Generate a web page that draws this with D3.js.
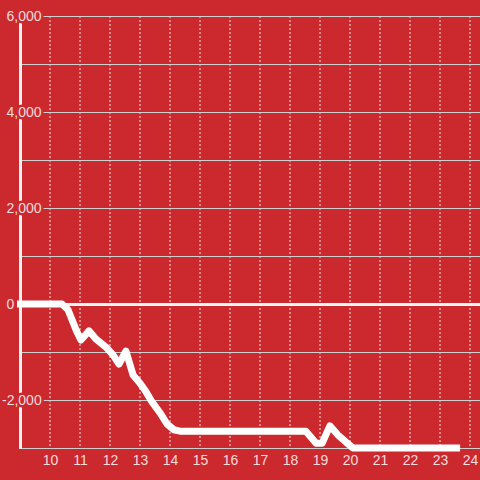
<!DOCTYPE html>
<html lang="en">
<head>
<meta charset="UTF-8">
<title>line</title>
<script src="https://cdn.jsdelivr.net/npm/d3@7/dist/d3.min.js"></script>
<style>
  body { margin: 0; background: #cc292e; }
  svg { display: block; font-family: "Liberation Sans", Arial, sans-serif; }
</style>
</head>
<body>
<svg width="480" height="480"></svg>
<script>
// data: hour of day vs value
var hours = [8.9, 10.4, 10.6, 10.87, 11.03, 11.3, 11.53, 11.87, 12.1, 12.3, 12.53, 12.77, 13.0, 13.2, 13.4, 13.67, 13.9, 14.13, 14.33, 18.53, 18.87, 19.07, 19.33, 19.6, 19.87, 20.1, 23.67];
var values = [0, 0, -120, -540, -750, -560, -730, -900, -1060, -1250, -980, -1480, -1650, -1830, -2040, -2270, -2500, -2620, -2650, -2650, -2900, -2900, -2540, -2730, -2880, -3000, -3000];
var xTicks = [10, 11, 12, 13, 14, 15, 16, 17, 18, 19, 20, 21, 22, 23, 24];
var yGrid = [-3000, -2000, -1000, 0, 1000, 2000, 3000, 4000, 5000, 6000];
var yLabels = [-2000, 0, 2000, 4000, 6000];

var bg = "#cc292e";
var svg = d3.select("svg");
var x = d3.scaleLinear().domain([9, 24 + 1 / 3]).range([20, 480]);
var y = d3.scaleLinear().domain([-3000, 6000]).range([448, 16]);
var fmt = d3.format(",");

svg.append("rect").attr("width", 480).attr("height", 480).attr("fill", bg);

// vertical dashed grid
svg.append("g").selectAll("line").data(xTicks).enter().append("line")
  .attr("x1", d => x(d)).attr("x2", d => x(d))
  .attr("y1", y(6000)).attr("y2", y(-3000))
  .attr("stroke", "#e6e6e6").attr("stroke-width", 1)
  .attr("stroke-dasharray", "2,2");

// horizontal grid
svg.append("g").selectAll("line").data(yGrid).enter().append("line")
  .attr("x1", 20).attr("x2", 480)
  .attr("y1", d => y(d) + 0.5).attr("y2", d => y(d) + 0.5)
  .attr("stroke", "#cfcfcf").attr("stroke-width", 1);

// y axis line
svg.append("line")
  .attr("x1", 20.5).attr("x2", 20.5).attr("y1", y(6000)).attr("y2", y(-3000) + 1)
  .attr("stroke", "#f2f2f2").attr("stroke-width", 3);

// y labels, left aligned, red halo cuts grid and axis line
svg.append("g").selectAll("text").data(yLabels).enter().append("text")
  .attr("x", d => d < 0 ? 2 : 6.5)
  .attr("y", d => y(d))
  .attr("dy", "0.35em")
  .attr("font-size", 14)
  .attr("fill", "#f3dcdc")
  .attr("stroke", bg).attr("stroke-width", 5)
  .attr("paint-order", "stroke")
  .text(d => fmt(d).replace("\u2212", "-"));

// zero line
svg.append("line")
  .attr("x1", 20).attr("x2", 480).attr("y1", y(0) + 0.5).attr("y2", y(0) + 0.5)
  .attr("stroke", "#f5f5f5").attr("stroke-width", 3);

// data line
var line = d3.line().x((d, i) => x(hours[i])).y(d => y(d));
svg.append("path").datum(values)
  .attr("d", line)
  .attr("fill", "none")
  .attr("stroke", "#ffffff")
  .attr("stroke-width", 7)
  .attr("stroke-linejoin", "round");

// x labels
var xAxis = d3.axisBottom(x).tickValues(xTicks).tickSize(0).tickPadding(7)
  .tickFormat(d3.format("d"));
var gx = svg.append("g").attr("transform", "translate(0,448)").call(xAxis);
gx.select(".domain").remove();
gx.selectAll("text")
  .attr("font-size", 14).attr("font-family", "Liberation Sans, Arial, sans-serif")
  .attr("fill", "#f3dcdc");
</script>
</body>
</html>
